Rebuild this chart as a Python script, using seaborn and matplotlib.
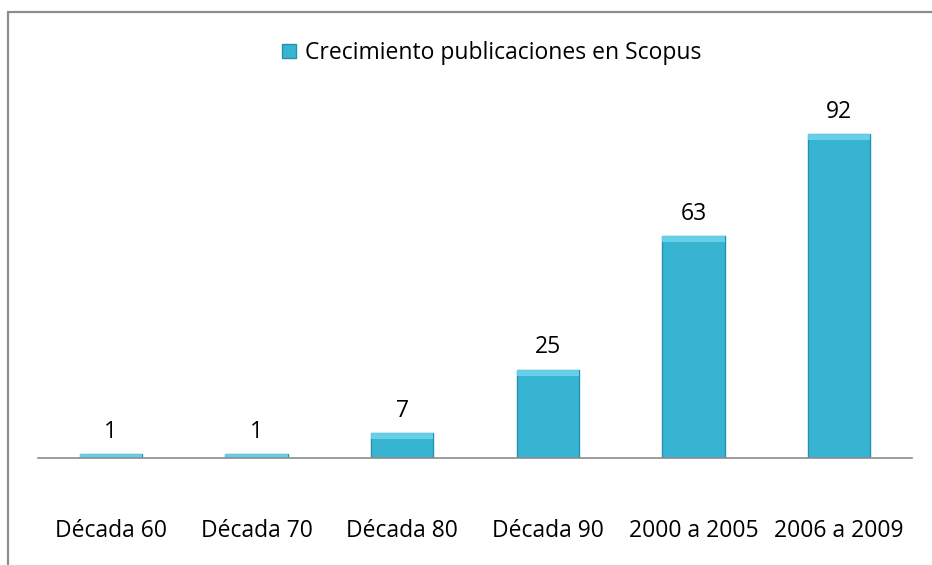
import matplotlib
matplotlib.use("Agg")
import matplotlib.pyplot as plt
import seaborn as sns
import pandas as pd
from matplotlib.patches import Rectangle, Patch

categories = ["Década 60", "Década 70", "Década 80", "Década 90", "2000 a 2005", "2006 a 2009"]
values = [1, 1, 7, 25, 63, 92]
series_name = "Crecimiento publicaciones en Scopus"

sns.set_theme(style="white")
plt.rcParams['font.family'] = ['Open Sans', 'DejaVu Sans']
plt.rcParams['text.color'] = 'black'

df = pd.DataFrame({"cat": categories, "val": values})

W, H = 932, 565
fig = plt.figure(figsize=(W / 100, H / 100), dpi=100)
ax = fig.add_axes([38 / W, 1 - 458 / H, (912 - 38) / W, (458 - 106) / H])

bar_color = "#38B4D3"
edge_color = "#2490AE"
sns.barplot(data=df, x="cat", y="val", ax=ax, color=bar_color, width=0.43,
            edgecolor=edge_color, linewidth=1.0, saturation=1)

# bevel highlight on top of each bar
for p in ax.patches:
    x0, w, h = p.get_x(), p.get_width(), p.get_height()
    band = min(h, 1.6)
    ax.add_patch(Rectangle((x0, h - band), w, band, facecolor="#6FD6EE",
                           edgecolor="none", alpha=0.85, zorder=p.get_zorder() + 0.1))

fs = 16.5
for i, v in enumerate(values):
    ax.text(i, v + 3.0, str(v), ha="center", va="bottom", fontsize=fs, color="black")

ax.set_ylim(0, 100)
ax.set_xlim(-0.5, len(categories) - 0.5)
ax.set_xlabel("")
ax.set_ylabel("")
ax.set_yticks([])
ax.tick_params(axis="x", length=0, pad=44, labelsize=fs, colors="black")
for s in ["top", "right", "left"]:
    ax.spines[s].set_visible(False)
ax.spines["bottom"].set_color("#8C8C8C")
ax.spines["bottom"].set_linewidth(1.2)

handle = Patch(facecolor=bar_color, edgecolor=edge_color, linewidth=1.0)
leg = fig.legend([handle], [series_name], loc="center", bbox_to_anchor=(492 / W, 1 - 53 / H),
                 frameon=False, fontsize=fs, handlelength=0.6, handleheight=0.6,
                 handletextpad=0.4)
for t in leg.get_texts():
    t.set_color("black")

# outer chart border (only top and left visible in the crop)
fig.add_artist(Rectangle((8 / W, -0.1), 1.2, 1 - 12 / H + 0.1, transform=fig.transFigure,
                         facecolor="none", edgecolor="#8C8C8C", linewidth=1.6))

fig.savefig("out.png", dpi=100)
